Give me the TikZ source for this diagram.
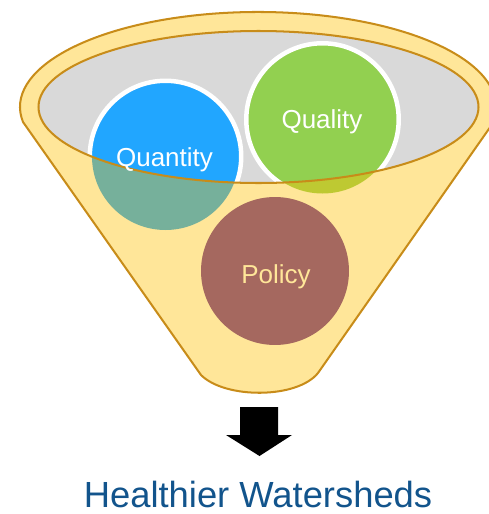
\documentclass[tikz,border=0pt]{standalone}
\usepackage{fontspec}
\setmainfont{Liberation Sans}
\definecolor{funfill}{RGB}{255,230,153}
\definecolor{funline}{RGB}{200,140,25}
\definecolor{inngray}{RGB}{217,217,217}
\definecolor{qblue}{RGB}{33,166,255}
\definecolor{qgreen}{RGB}{146,208,80}
\definecolor{qteal}{RGB}{118,176,155}
\definecolor{qolive}{RGB}{190,201,50}
\definecolor{pbrown}{RGB}{165,104,95}
\definecolor{hblue}{RGB}{18,84,140}
\begin{document}
\begin{tikzpicture}[x=0.02cm,y=-0.02cm,
  ringcirc/.style={circle, draw=white, line width=0.09cm, inner sep=0pt},
  edge/.style={draw=funline, line width=1.15pt},
  lbl/.style={anchor=base, inner sep=0pt, font=\fontsize{14.8}{17}\selectfont},
  biglbl/.style={anchor=base, inner sep=0pt, font=\fontsize{20.7}{24}\selectfont, text=hblue}]
\useasboundingbox (0,0) rectangle (488,514);
% funnel body
\fill[funfill] (23,122) arc[start angle=170.9,end angle=370.9,x radius=238,y radius=95]
  -- (318,373) .. controls (297,399) and (225,399) .. (201,375) -- cycle;
% inner opening
\fill[inngray] (258.5,107) ellipse[x radius=220, y radius=76];
% circles inside
\node[ringcirc, fill=qblue, minimum size=3.03cm] (quantity) at (165.5,156.5) {};
\node[ringcirc, fill=qgreen, minimum size=3.05cm] (quality) at (322.5,119.5) {};
% front part of funnel
\begin{scope}
  \clip (38.5,107) arc[start angle=180,end angle=0,x radius=220,y radius=76]
    -- (478.5,514) -- (38.5,514) -- cycle;
  \fill[funfill] (23,122) arc[start angle=170.9,end angle=370.9,x radius=238,y radius=95]
    -- (318,373) .. controls (297,399) and (225,399) .. (201,375) -- cycle;
  \fill[qteal] (quantity.center) circle[radius=73.5];
  \fill[qolive] (quality.center) circle[radius=74];
\end{scope}
% outlines
\draw[edge] (23,122) arc[start angle=170.9,end angle=370.9,x radius=238,y radius=95]
  -- (318,373) .. controls (297,399) and (225,399) .. (201,375) -- cycle;
\draw[edge] (258.5,107) ellipse[x radius=220, y radius=76];
% policy
\node[circle, fill=pbrown, inner sep=0pt, minimum size=2.96cm] (policy) at (275,271) {};
% labels
\node[lbl, text=white] (quantitytext) at (164.5,166) {Quantity};
\node[lbl, text=white] (qualitytext) at (322,128.5) {Quality};
\node[lbl, text=funfill] (policytext) at (276,283) {Policy};
% arrow
\fill[black] (240,407) -- (278,407) -- (278,435) -- (292,435) -- (259.5,456)
  -- (226,435) -- (240,435) -- cycle;
\node[biglbl] (result) at (258,507.5) {Healthier Watersheds};
\end{tikzpicture}
\end{document}
